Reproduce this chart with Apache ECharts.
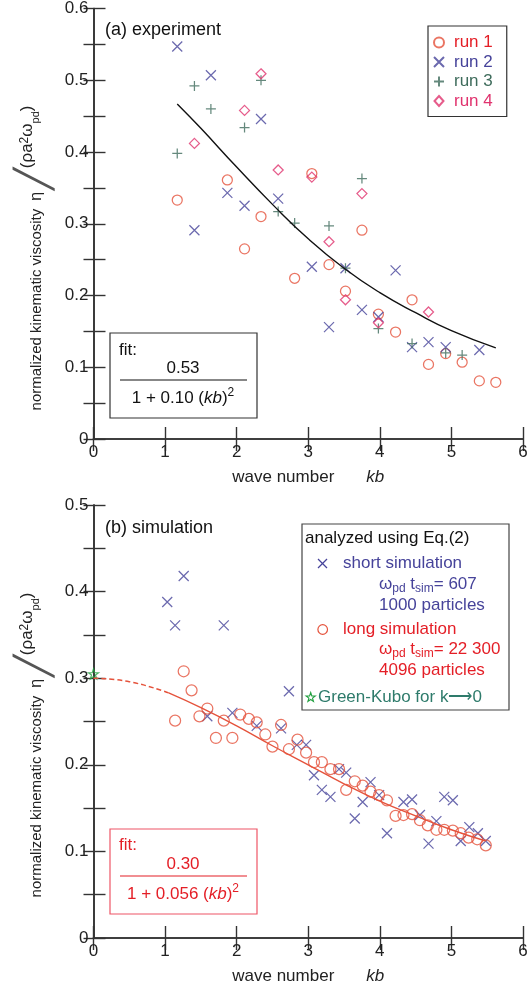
<!DOCTYPE html>
<html><head><meta charset="utf-8">
<script src="https://cdn.jsdelivr.net/npm/echarts@6/dist/echarts.min.js"></script>
<style>html,body{margin:0;padding:0;background:#fff}#c{width:531px;height:990px}</style>
</head><body><div id="c"></div>
<script>
const FONT = 'Liberation Sans, Arial, Helvetica, sans-serif';

// ---- (a) experiment: [kb, eta] ----
const run1 = [[1.17,0.333],[1.87,0.361],[2.11,0.265],[2.34,0.310],[2.81,0.224],[3.05,0.370],[3.29,0.243],[3.52,0.206],[3.75,0.291],[3.98,0.174],[4.22,0.149],[4.45,0.194],[4.68,0.104],[4.92,0.119],[5.15,0.107],[5.39,0.081],[5.62,0.079]];
const run2 = [[1.17,0.547],[1.41,0.291],[1.64,0.507],[1.87,0.343],[2.11,0.325],[2.34,0.446],[2.58,0.335],[3.05,0.240],[3.29,0.156],[3.52,0.238],[3.75,0.180],[3.98,0.170],[4.22,0.235],[4.45,0.128],[4.68,0.135],[4.92,0.128],[5.39,0.124]];
const run3 = [[1.17,0.398],[1.41,0.492],[1.64,0.460],[2.11,0.434],[2.34,0.500],[2.58,0.317],[2.81,0.301],[3.29,0.297],[3.52,0.238],[3.75,0.363],[3.98,0.154],[4.45,0.133],[4.92,0.120],[5.15,0.117]];
const run4 = [[1.41,0.412],[2.11,0.458],[2.34,0.509],[2.58,0.375],[3.05,0.365],[3.29,0.275],[3.52,0.194],[3.75,0.342],[3.98,0.162],[4.68,0.177]];
const fitA_kb  = [1.17, 1.5, 2, 2.5, 3, 3.5, 4, 4.5, 5, 5.62];
const fitA_val = [0.467, 0.433, 0.379, 0.327, 0.279, 0.238, 0.204, 0.176, 0.151, 0.127];

// ---- (b) simulation ----
const shortSim = [[1.03,0.388],[1.14,0.361],[1.26,0.418],[1.59,0.256],[1.82,0.361],[1.94,0.260],[2.28,0.245],[2.62,0.242],[2.73,0.285],[2.84,0.223],[2.97,0.223],[3.08,0.188],[3.19,0.171],[3.31,0.163],[3.43,0.195],[3.53,0.191],[3.65,0.138],[3.76,0.157],[3.87,0.180],[3.99,0.165],[4.10,0.121],[4.33,0.157],[4.45,0.160],[4.56,0.142],[4.68,0.109],[4.79,0.135],[4.90,0.163],[5.02,0.159],[5.13,0.112],[5.25,0.128],[5.37,0.121],[5.48,0.112]];
const longSim = [[1.14,0.251],[1.26,0.308],[1.37,0.286],[1.48,0.256],[1.59,0.265],[1.71,0.231],[1.82,0.251],[1.94,0.231],[2.05,0.258],[2.17,0.253],[2.28,0.249],[2.40,0.235],[2.50,0.221],[2.62,0.246],[2.73,0.218],[2.85,0.229],[2.97,0.214],[3.08,0.203],[3.19,0.203],[3.31,0.195],[3.43,0.195],[3.53,0.171],[3.65,0.181],[3.76,0.176],[3.87,0.169],[3.99,0.165],[4.10,0.159],[4.22,0.141],[4.33,0.142],[4.45,0.143],[4.56,0.136],[4.67,0.130],[4.79,0.125],[4.90,0.125],[5.02,0.124],[5.13,0.121],[5.24,0.116],[5.36,0.114],[5.48,0.107]];
const greenKubo = [[0, 0.305]];
const fitB_dash_kb  = [0, 0.5, 1.05];
const fitB_dash_val = [0.300, 0.296, 0.283];
const fitB_kb  = [1.05, 1.5, 2, 2.5, 3, 3.5, 4, 4.5, 5, 5.48];
const fitB_val = [0.283, 0.266, 0.245, 0.222, 0.200, 0.178, 0.158, 0.141, 0.125, 0.112];

// ---- tick labels ----
const xTickLabels = ['0','1','2','3','4','5','6'];
const yTickLabelsA = ['0','0.1','0.2','0.3','0.4','0.5','0.6'];
const yTickLabelsB = ['0','0.1','0.2','0.3','0.4','0.5'];

const C = {
  red: '#e5533c', redText: '#e41e26', blue: '#46439a', green: '#3f6c5c',
  pink: '#e0336e', axis: '#333', text: '#222', teal: '#2e7b6b', star: '#22a040'
};
const SYM_X = 'path://M0,0L10,10M10,0L0,10';
const SYM_PLUS = 'path://M5,0L5,10M0,5L10,5';
const SYM_DIAMOND = 'path://M5,0L9.5,5L5,10L0.5,5Z';
const SYM_STAR = 'path://M5,0L6.2,3.6L10,3.7L7,5.9L8.1,9.6L5,7.4L1.9,9.6L3,5.9L0,3.7L3.8,3.6Z';
const zip = (a, b) => a.map((v, i) => [v, b[i]]);

function xAxes(gi) {
  const base = {
    gridIndex: gi, type: 'value', min: 0, max: 6, interval: 1,
    axisLine: { show: true, lineStyle: { color: C.axis, width: 1.6 } },
    axisTick: { show: true, inside: true, length: 12, lineStyle: { color: C.axis, width: 1.4 } },
    splitLine: { show: false }
  };
  return [
    Object.assign({}, base, {
      position: 'bottom',
      axisLabel: { fontSize: 17, color: C.text, fontFamily: FONT, margin: 5,
        formatter: v => xTickLabels[Math.round(v)] || '' },
      name: '{t|wave number}{g|}{i|kb}', nameLocation: 'middle', nameGap: 30,
      nameTextStyle: { rich: {
        t: { fontSize: 17, color: C.text, fontFamily: FONT },
        g: { width: 32 },
        i: { fontSize: 17, color: C.text, fontFamily: FONT, fontStyle: 'italic' } } }
    }),
    Object.assign({}, base, { position: 'top', axisLabel: { show: false } })
  ];
}
function yAxes(gi, max, labels) {
  const base = {
    gridIndex: gi, type: 'value', min: 0, max: max, interval: 0.05,
    axisLine: { show: true, lineStyle: { color: C.axis, width: 1.6 } },
    splitLine: { show: false }
  };
  return [
    Object.assign({}, base, {
      position: 'left',
      axisTick: { show: true, inside: true, length: 12, lineStyle: { color: C.axis, width: 1.4 } },
      axisLabel: { fontSize: 17, color: C.text, fontFamily: FONT, margin: 5,
        formatter: v => { const s = String(+v.toFixed(2)); return labels.includes(s) ? s : ''; } }
    }),
    Object.assign({}, base, {
      position: 'right',
      axisTick: { show: true, inside: true, length: 10, lineStyle: { color: C.axis, width: 1.4 } },
      axisLabel: { show: false }
    })
  ];
}
function scatter(name, data, xi, yi, symbol, size, color) {
  return { name, type: 'scatter', xAxisIndex: xi, yAxisIndex: yi, data,
    symbol, symbolSize: size,
    itemStyle: { color: 'rgba(0,0,0,0)', borderColor: color, borderWidth: 1.25 } };
}

const yTitleRich = {
  t: { fontSize: 15, fill: C.text, fontFamily: FONT },
  e: { fontSize: 16, fill: C.text, fontFamily: FONT, padding: [0, 2, 0, 8] },
  sl: { fontSize: 36, fill: '#555', fontFamily: 'DejaVu Sans, sans-serif' },
  d: { fontSize: 17, fill: C.text, fontFamily: FONT, verticalAlign: 'top', lineHeight: 30 },
  sup: { fontSize: 12, fill: C.text, fontFamily: FONT, verticalAlign: 'top', lineHeight: 27 },
  sub: { fontSize: 11, fill: C.text, fontFamily: FONT, verticalAlign: 'top', padding: [11, 0, 0, 0] }
};
const yTitle = '{t|normalized kinematic viscosity}{e|η}{sl|╱}{d|(ρa}{sup|2}{d|ω}{sub|pd}{d|)}';

function txt(x, y, text, opt) {
  return { type: 'text', x, y, z: 100, style: Object.assign({
    text, fontSize: 17, fontFamily: FONT, fill: C.text,
    align: 'left', verticalAlign: 'middle' }, opt || {}) };
}
const subRich = (col) => ({
  n: { fontSize: 17, fontFamily: FONT, fill: col, lineHeight: 22 },
  s: { fontSize: 12, fontFamily: FONT, fill: col, verticalAlign: 'bottom', lineHeight: 22 },
  i: { fontSize: 17, fontFamily: FONT, fill: col, fontStyle: 'italic', lineHeight: 22 },
  p: { fontSize: 12, fontFamily: FONT, fill: col, verticalAlign: 'top', lineHeight: 22 }
});

const option = {
  backgroundColor: '#fff',
  animation: false,
  grid: [
    { left: 93.5, right: 8, top: 7, height: 432 },
    { left: 93.5, right: 8, top: 505, height: 433 }
  ],
  xAxis: [...xAxes(0), ...xAxes(1)],
  yAxis: [...yAxes(0, 0.6, yTickLabelsA), ...yAxes(1, 0.5, yTickLabelsB)],
  legend: {
    orient: 'vertical', left: 428, top: 26,
    padding: [8, 14, 7, 5], itemGap: 2.5, itemWidth: 20, itemHeight: 10,
    borderColor: '#333', borderWidth: 1.2,
    textStyle: { fontSize: 17, fontFamily: FONT },
    data: [
      { name: 'run 1', textStyle: { color: C.redText } },
      { name: 'run 2', textStyle: { color: C.blue } },
      { name: 'run 3', textStyle: { color: C.green } },
      { name: 'run 4', textStyle: { color: C.pink } }
    ]
  },
  series: [
    { name: 'fit a', type: 'line', xAxisIndex: 0, yAxisIndex: 0, data: zip(fitA_kb, fitA_val),
      smooth: true, showSymbol: false, lineStyle: { color: '#111', width: 1.4 } },
    scatter('run 1', run1, 0, 0, 'circle', 10, C.red),
    scatter('run 2', run2, 0, 0, SYM_X, 10, C.blue),
    scatter('run 3', run3, 0, 0, SYM_PLUS, 10, C.green),
    scatter('run 4', run4, 0, 0, SYM_DIAMOND, 10, C.pink),

    { name: 'fit b dash', type: 'line', xAxisIndex: 2, yAxisIndex: 2, data: zip(fitB_dash_kb, fitB_dash_val),
      smooth: true, showSymbol: false, lineStyle: { color: C.red, width: 1.5, type: [5, 3] } },
    { name: 'fit b', type: 'line', xAxisIndex: 2, yAxisIndex: 2, data: zip(fitB_kb, fitB_val),
      smooth: true, showSymbol: false, lineStyle: { color: C.red, width: 1.4 } },
    scatter('short simulation', shortSim, 2, 2, SYM_X, 10, C.blue),
    scatter('long simulation', longSim, 2, 2, 'circle', 11, C.red),
    scatter('Green-Kubo', greenKubo, 2, 2, SYM_STAR, 10, C.star)
  ],
  graphic: [
    { type: 'text', x: 37, y: 258, rotation: Math.PI / 2, z: 100,
      style: { text: yTitle, rich: yTitleRich, align: 'center', verticalAlign: 'middle' } },
    { type: 'text', x: 37, y: 745, rotation: Math.PI / 2, z: 100,
      style: { text: yTitle, rich: yTitleRich, align: 'center', verticalAlign: 'middle' } },
    txt(105, 30, '(a) experiment', { fontSize: 18, fill: '#111' }),
    txt(105, 528, '(b) simulation', { fontSize: 18, fill: '#111' }),
    { type: 'rect', z: 100, shape: { x: 110, y: 333, width: 147, height: 85 },
      style: { fill: 'none', stroke: '#333', lineWidth: 1.2 } },
    txt(119, 350, 'fit:', { fill: '#111' }),
    txt(183, 368, '0.53', { align: 'center', fill: '#111' }),
    { type: 'line', z: 100, shape: { x1: 120, y1: 380, x2: 247, y2: 380 }, style: { stroke: '#111', lineWidth: 1.2 } },
    { type: 'text', x: 183, y: 398, z: 100, style: { text: '{n|1 + 0.10 (}{i|kb}{n|)}{p|2}', rich: subRich('#111'),
      align: 'center', verticalAlign: 'middle' } },
    { type: 'rect', z: 100, shape: { x: 110, y: 829, width: 147, height: 85 },
      style: { fill: 'none', stroke: '#ee5566', lineWidth: 1.2 } },
    txt(119, 845, 'fit:', { fill: C.redText }),
    txt(183, 864, '0.30', { align: 'center', fill: C.redText }),
    { type: 'line', z: 100, shape: { x1: 120, y1: 876, x2: 247, y2: 876 }, style: { stroke: C.redText, lineWidth: 1.2 } },
    { type: 'text', x: 183, y: 894, z: 100, style: { text: '{n|1 + 0.056 (}{i|kb}{n|)}{p|2}', rich: subRich(C.redText),
      align: 'center', verticalAlign: 'middle' } },
    { type: 'rect', z: 100, shape: { x: 302, y: 524, width: 207, height: 186 },
      style: { fill: 'none', stroke: '#444', lineWidth: 1.2 } },
    txt(305, 538, 'analyzed using Eq.(2)', { fill: '#111' }),
    { type: 'line', z: 100, shape: { x1: 318, y1: 559, x2: 327, y2: 568 }, style: { stroke: C.blue, lineWidth: 1.2 } },
    { type: 'line', z: 100, shape: { x1: 327, y1: 559, x2: 318, y2: 568 }, style: { stroke: C.blue, lineWidth: 1.2 } },
    txt(343, 563, 'short simulation', { fill: C.blue }),
    { type: 'text', x: 379, y: 584, z: 100, style: { text: '{n|ω}{s|pd}{n| t}{s|sim}{n|= 607}', rich: subRich(C.blue), verticalAlign: 'middle' } },
    txt(379, 605, '1000 particles', { fill: C.blue }),
    { type: 'circle', z: 100, shape: { cx: 322.7, cy: 629.5, r: 4.8 },
      style: { fill: 'none', stroke: C.red, lineWidth: 1.2 } },
    txt(343, 629, 'long simulation', { fill: C.redText }),
    { type: 'text', x: 379, y: 649, z: 100, style: { text: '{n|ω}{s|pd}{n| t}{s|sim}{n|= 22 300}', rich: subRich(C.redText), verticalAlign: 'middle' } },
    txt(379, 670, '4096 particles', { fill: C.redText }),
    { type: 'polygon', z: 100, shape: { points: [[310.7,692.5],[311.8,695.9],[315.3,696],[312.5,698.1],[313.5,701.5],[310.7,699.5],[307.9,701.5],[308.9,698.1],[306.1,696],[309.6,695.9]] },
      style: { fill: 'none', stroke: C.star, lineWidth: 1.1 } },
    txt(318, 697, 'Green-Kubo for k⟶0', { fill: C.teal })
  ]
};
echarts.init(document.getElementById('c'), null, { renderer: 'canvas' }).setOption(option);
</script>
</body></html>
